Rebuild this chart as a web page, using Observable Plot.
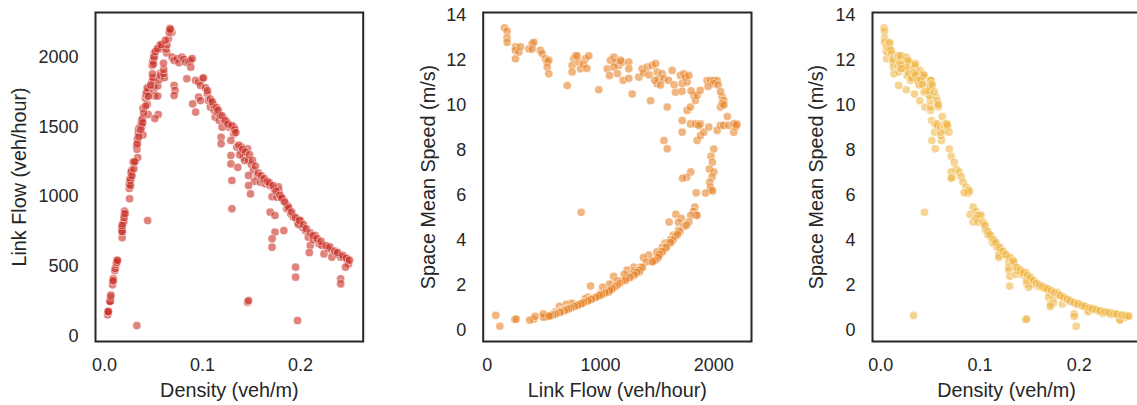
<!DOCTYPE html>
<html>
<head>
<meta charset="utf-8">
<script src="https://cdn.jsdelivr.net/npm/d3@7"></script>
<script src="https://cdn.jsdelivr.net/npm/@observablehq/plot@0.6"></script>
<style>
  html, body { margin: 0; padding: 0; background: #fff; overflow: hidden; }
  #wrap { position: relative; width: 1137px; height: 405px; overflow: hidden; }
  .panel { position: absolute; top: 0; }
</style>
</head>
<body>
<div id="wrap"></div>
<script>
// ---- data (density veh/m, link flow veh/hour, space mean speed m/s) ----
const densityFree = [
  0.0032,0.0037,0.0038,0.0038,0.0055,0.0056,0.0058,0.0063,0.0065,0.0082,
  0.0087,0.0089,0.0088,0.0105,0.0110,0.0119,0.0124,0.0126,0.0126,0.0133,
  0.0180,0.0176,0.0178,0.0177,0.0181,0.0189,0.0197,0.0181,0.0200,0.0204,
  0.0256,0.0253,0.0252,0.0256,0.0264,0.0274,0.0278,0.0291,0.0299,0.0272,
  0.0265,0.0339,0.0331,0.0327,0.0335,0.0344,0.0348,0.0363,0.0380,0.0376,
  0.0376,0.0388,0.0393,0.0445,0.0393,0.0436,0.0418,0.0436,0.0423,0.0445,
  0.0432,0.0436,0.0502,0.0513,0.0543,0.0502,0.0485,0.0500,0.0493,0.0543,
  0.0557,0.0570,0.0570,0.0611,0.0605,0.0604,0.0602,0.0486,0.0493,0.0500,
  0.0508,0.0507,0.0556,0.0568,0.0577,0.0572,0.0635,0.0628,0.0637,0.0651,
  0.0687,0.0674,0.0668,0.0548,0.0514,
  0.020,0.021,0.0265,0.028,0.030,0.031,0.0335,0.035,0.037,0.039,
  0.040,0.042,0.045,0.047,0.049,0.050,0.052,0.054,0.058,0.062,
  0.066,0.067
];
const flowFree = [
  153,176,176,176,250,250,250,280,294,368,
  397,412,397,470,485,515,530,544,530,544,
  706,765,780,750,750,809,824,794,868,897,
  985,1059,1088,1118,1133,1162,1191,1250,1250,1177,
  1118,1280,1339,1368,1412,1456,1486,1500,1500,1515,
  1545,1560,1442,1589,1633,1662,1706,1721,1736,1765,
  1750,1780,1765,1721,1721,1794,1824,1838,1853,1794,
  1838,1883,1868,1853,1883,1912,1956,1941,1971,2000,
  2030,2000,2074,2088,2059,2074,2030,2059,2088,2132,
  2177,2191,2206,1589,1560,
  850,880,1080,1150,1200,1250,1380,1430,1480,1530,
  1600,1650,1720,1800,1880,1950,2040,2060,2090,2120,
  2180,2200
];
const speedFree = [
  13.45,13.3,13.0,12.8,12.6,12.44,12.07,12.37,12.6,12.5,
  12.74,12.8,12.5,12.44,12.3,12.07,11.92,12.0,11.7,11.4,
  10.88,12.07,12.2,11.77,11.48,11.92,11.62,12.2,12.07,12.2,
  10.69,11.62,12.0,12.14,11.92,11.77,11.92,11.92,11.62,12.0,
  11.7,10.5,11.25,11.62,11.7,11.77,11.85,11.48,10.96,11.18,
  11.4,11.18,10.2,9.92,11.55,10.58,11.33,10.96,11.4,11.03,
  11.25,11.33,9.77,9.32,8.8,9.92,10.44,10.21,10.44,9.17,
  9.17,9.17,9.1,8.43,8.65,8.8,9.03,11.1,11.1,11.1,
  11.1,10.96,10.36,10.21,9.92,10.07,8.88,9.1,9.1,9.1,
  8.8,9.03,9.17,8.06,8.43,
  11.81,11.64,11.32,11.41,11.11,11.20,11.44,11.35,11.11,10.90,
  11.11,10.91,10.62,10.64,10.66,10.83,10.90,10.60,10.01,9.50,
  9.18,9.12
];
const densityCong = [
  0.069,0.071,0.074,0.076,0.079,0.081,0.083,0.086,0.088,0.088,
  0.0895,0.084,0.071,0.072,0.071,0.090,0.093,0.093,0.096,0.100,
  0.101,0.098,0.096,0.098,0.105,0.106,0.108,0.112,0.113,0.115,
  0.117,0.118,0.122,0.125,0.127,0.132,0.132,0.120,0.119,0.119,
  0.129,0.129,0.129,0.130,0.130,0.135,0.139,0.140,0.146,0.142,
  0.143,0.147,0.150,0.152,0.156,0.153,0.159,0.164,0.169,0.173,
  0.171,0.176,0.136,0.147,0.149,0.147,0.169,0.174,0.174,0.171,
  0.171,0.183,0.183,0.186,0.190,0.193,0.197,0.200,0.202,0.205,
  0.208,0.210,0.209,0.215,0.219,0.222,0.224,0.232,0.232,0.241,
  0.244,0.248,0.249,0.246,0.241,0.241,0.195,0.195,0.197,0.146,
  0.147,0.044,0.033,0.162,0.178,0.187,0.180,0.138,0.111,0.103,
  0.228,0.237,0.213,0.198,0.1775,
  0.105,0.108,0.110,0.114,0.116,0.120,0.123,0.126,0.130,0.133,
  0.134,0.137,0.141,0.144,0.148,0.151,0.154,0.157,0.160,0.163,
  0.166,0.168,0.172,0.175,0.179,0.181,0.184,0.188,0.191,0.195,
  0.199,0.203,0.206,0.210,0.213,0.217,0.221,0.226,0.230,0.235,
  0.238,0.243,0.247,0.250
];
const flowCong = [
  2000,1976,1988,1960,2000,1985,1964,1970,1976,1928,
  1990,1845,1797,1761,1725,1665,1606,1833,1821,1845,
  1852,1797,1713,1689,1737,1689,1642,1618,1570,1606,
  1546,1582,1556,1534,1498,1498,1450,1498,1426,1379,
  1403,1295,1235,1116,913,1355,1331,1355,1343,1283,
  1259,1259,1230,1190,1150,1110,1104,1092,1080,1056,
  1000,996,1210,1080,1020,1152,889,865,746,698,
  638,757,972,913,877,853,817,829,781,757,
  710,650,600,722,662,650,590,614,566,566,
  566,542,518,495,411,375,495,423,112,244,
  256,829,76,1120,1040,934,1000,1300,1660,1780,
  630,590,690,800,1070,
  1760,1700,1680,1640,1620,1580,1545,1520,1510,1480,
  1460,1370,1340,1320,1300,1260,1220,1170,1150,1130,
  1110,1100,1080,1040,1010,990,960,920,890,850,
  830,800,770,740,720,700,680,650,640,610,
  600,580,560,545
];
const speedCong = [
  8.05,7.73,7.46,7.16,7.03,6.81,6.57,6.36,6.24,6.09,
  6.18,6.10,7.03,6.79,6.75,5.14,4.80,5.47,5.27,5.13,
  5.09,5.09,4.96,4.79,4.60,4.43,4.22,4.01,3.86,3.88,
  3.67,3.72,3.54,3.41,3.28,3.15,3.05,3.47,3.33,3.22,
  3.02,2.79,2.66,2.38,1.95,2.79,2.66,2.69,2.56,2.51,
  2.45,2.38,2.28,2.17,2.05,2.02,1.93,1.85,1.78,1.70,
  1.62,1.57,2.47,2.04,1.90,2.18,1.46,1.38,1.19,1.13,
  1.04,1.15,1.48,1.36,1.28,1.23,1.15,1.15,1.07,1.03,
  0.95,0.86,0.80,0.93,0.84,0.81,0.73,0.74,0.68,0.65,
  0.64,0.61,0.58,0.56,0.47,0.43,0.71,0.60,0.16,0.46,
  0.48,5.23,0.64,1.92,1.62,1.39,1.54,2.62,4.15,4.80,
  0.77,0.69,0.90,1.12,1.67,
  4.66,4.37,4.24,4.00,3.88,3.66,3.49,3.35,3.23,3.09,
  3.03,2.78,2.64,2.55,2.44,2.32,2.20,2.07,2.00,1.93,
  1.86,1.82,1.74,1.65,1.57,1.52,1.45,1.36,1.29,1.21,
  1.16,1.09,1.04,0.98,0.94,0.90,0.85,0.80,0.77,0.72,
  0.70,0.66,0.63,0.61
];

const densityTicks = [0, 0.1, 0.2];
const flowTicks = [0, 500, 1000, 1500, 2000];
const flowTicks2 = [0, 1000, 2000];
const speedTicks = [0, 2, 4, 6, 8, 10, 12, 14];
const colors = ["#c93027", "#e8852c", "#f0b849"];

// table built from the named arrays
const allDensity = densityFree.concat(densityCong);
const allFlow = flowFree.concat(flowCong);
const allSpeed = speedFree.concat(speedCong);
const rows = allDensity.map((k, i) => ({k, q: allFlow[i], v: allSpeed[i]}));

const FONT = "'Liberation Sans', Arial, Helvetica, sans-serif";
const INK = "#262626";

function panel({left, width, mLeft, mRight, xKey, yKey, xDomain, yDomain, xTicks, yTicks, xFmt, yFmt, xLabel, yLabel, yLabelOffset, color}) {
  const chart = Plot.plot({
    width, height: 405,
    marginLeft: mLeft, marginRight: mRight, marginTop: 12, marginBottom: 64,
    style: {fontFamily: FONT, fontSize: "18px", color: INK, background: "transparent", overflow: "visible"},
    x: {domain: xDomain},
    y: {domain: yDomain},
    marks: [
      Plot.dot(rows, {x: xKey, y: yKey, r: 4.1, fill: color, fillOpacity: 0.6, stroke: "white", strokeOpacity: 0.6, strokeWidth: 0.8}),
      Plot.axisX({ticks: xTicks, tickFormat: xFmt, tickSize: 0, tickPadding: 17, fontSize: 18, label: null}),
      Plot.axisX({ticks: [], tickSize: 0, label: xLabel, labelAnchor: "center", labelArrow: "none", labelOffset: 55, fontSize: 19.8}),
      Plot.axisY({ticks: yTicks, tickFormat: yFmt, tickSize: 0, tickPadding: 17, fontSize: 18, label: null}),
      Plot.axisY({ticks: [], tickSize: 0, label: yLabel, labelAnchor: "center", labelArrow: "none", labelOffset: yLabelOffset, fontSize: 19.8}),
      Plot.frame({stroke: INK, strokeWidth: 2})
    ]
  });
  chart.classList.add("panel");
  chart.style.left = left + "px";
  document.getElementById("wrap").appendChild(chart);
}

panel({left: 0, width: 380, mLeft: 95, mRight: 17.3, xKey: "k", yKey: "q",
  xDomain: [-0.0092, 0.264], yDomain: [-38, 2320], xTicks: densityTicks, yTicks: flowTicks,
  xFmt: d3.format(".1f"), yFmt: d3.format("d"), xLabel: "Density (veh/m)", yLabel: "Link Flow (veh/hour)",
  yLabelOffset: 83.3, color: colors[0]});

panel({left: 380, width: 380, mLeft: 102.7, mRight: 9, xKey: "q", yKey: "v",
  xDomain: [-35, 2333], yDomain: [-0.52, 14.13], xTicks: flowTicks2, yTicks: speedTicks,
  xFmt: d3.format("d"), yFmt: d3.format("d"), xLabel: "Link Flow (veh/hour)", yLabel: "Space Mean Speed (m/s)",
  yLabelOffset: 62.7, color: colors[1]});

panel({left: 760, width: 380, mLeft: 112, mRight: 0, xKey: "k", yKey: "v",
  xDomain: [-0.0084, 0.2618], yDomain: [-0.52, 14.13], xTicks: densityTicks, yTicks: speedTicks,
  xFmt: d3.format(".1f"), yFmt: d3.format("d"), xLabel: "Density (veh/m)", yLabel: "Space Mean Speed (m/s)",
  yLabelOffset: 63.3, color: colors[2]});
</script>
</body>
</html>
